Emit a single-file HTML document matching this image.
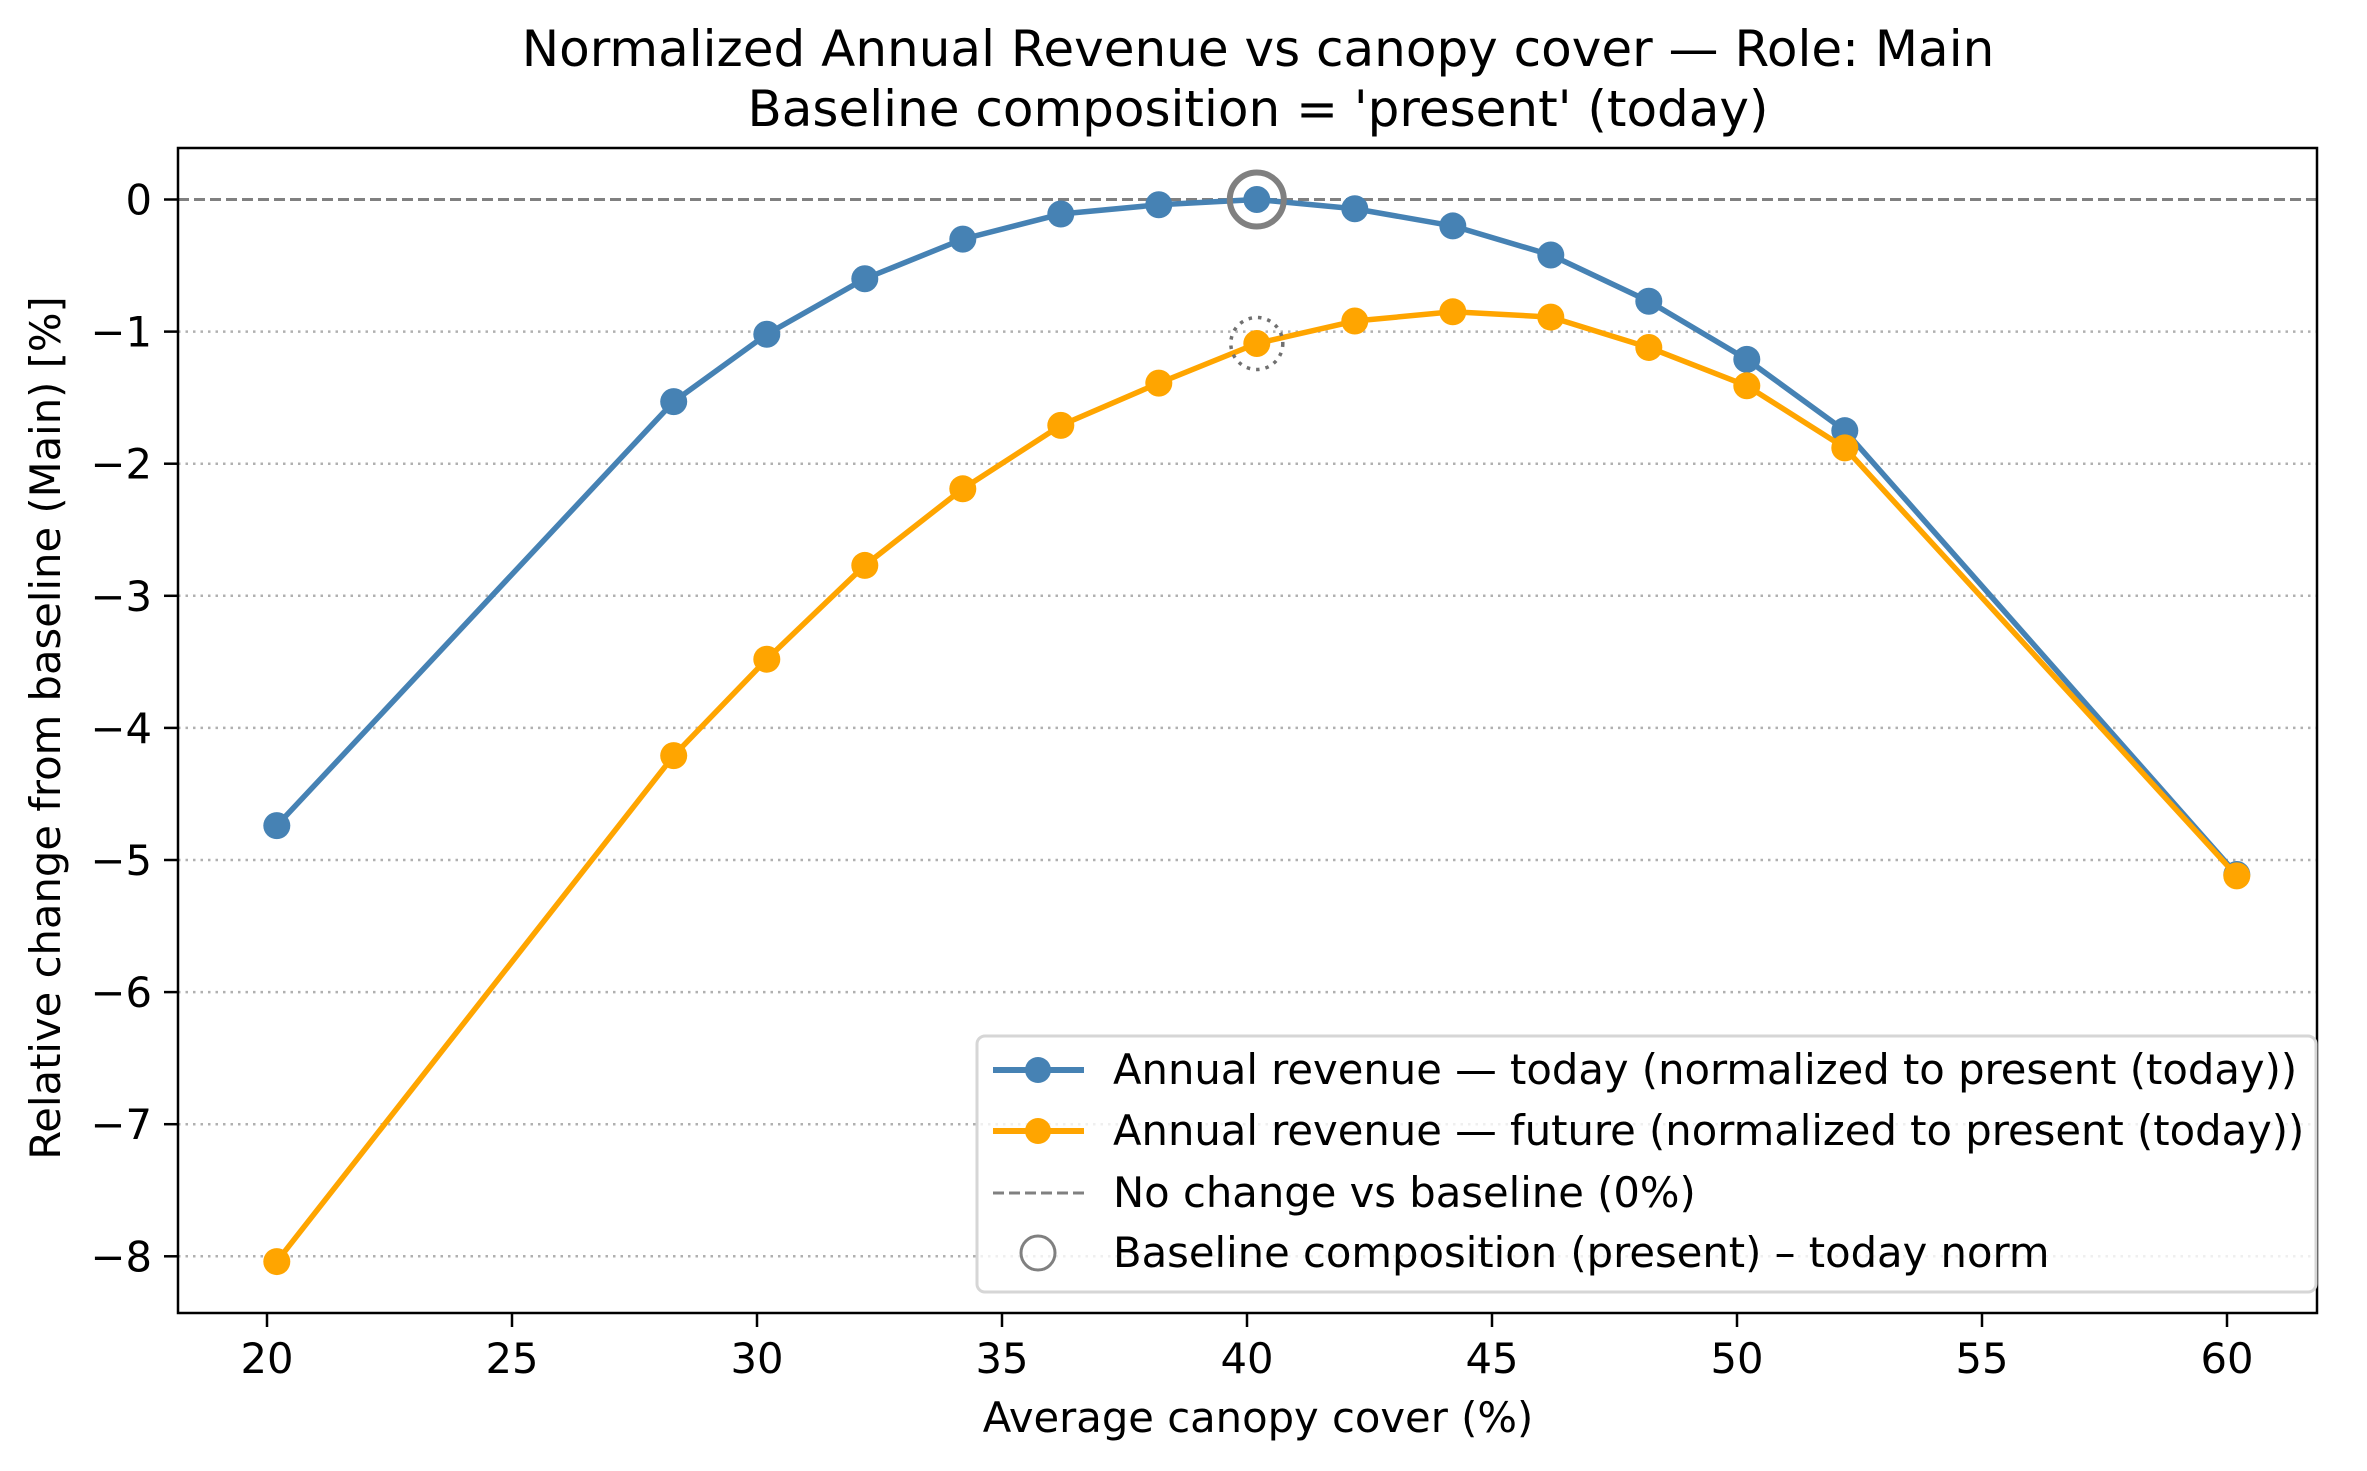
<!DOCTYPE html>
<html><head><meta charset="utf-8"><style>
body{margin:0;background:#fff}
svg{display:block;font-family:"DejaVu Sans","Liberation Sans",sans-serif}
</style></head><body>
<svg id="chart" width="2367" height="1471" viewBox="0 0 2367 1471" xmlns="http://www.w3.org/2000/svg">
<rect width="2367" height="1471" fill="#fff"/>
<text x="1258" y="66" font-size="50" text-anchor="middle">Normalized Annual Revenue vs canopy cover — Role: Main</text>
<text x="1258" y="126" font-size="50" text-anchor="middle">Baseline composition = 'present' (today)</text>
<g id="grid"></g>
<g id="axes"></g>
<g id="series"></g>
<text x="1258" y="1432" font-size="41.7" text-anchor="middle">Average canopy cover (%)</text>
<text x="0" y="0" font-size="41.7" text-anchor="middle" transform="translate(60,728) rotate(-90)">Relative change from baseline (Main) [%]</text>
<g>
<rect x="977" y="1036" width="1339" height="256" rx="8" fill="#fff" fill-opacity="0.8" stroke="#d6d6d6" stroke-width="3"/>
<g>
<line x1="993" y1="1070" x2="1084" y2="1070" stroke="#4682b4" stroke-width="6"/><circle cx="1038" cy="1070" r="13" fill="#4682b4"/>
<text x="1113" y="1084" font-size="41.7">Annual revenue — today (normalized to present (today))</text></g>
<g>
<line x1="993" y1="1131" x2="1084" y2="1131" stroke="#ffa500" stroke-width="6"/><circle cx="1038" cy="1131" r="13" fill="#ffa500"/>
<text x="1113" y="1145" font-size="41.7">Annual revenue — future (normalized to present (today))</text></g>
<g>
<line x1="993" y1="1193" x2="1084" y2="1193" stroke="#808080" stroke-width="3" stroke-dasharray="11,5"/>
<text x="1113" y="1207" font-size="41.7">No change vs baseline (0%)</text></g>
<g>
<circle cx="1038" cy="1253" r="17" fill="none" stroke="#808080" stroke-width="3"/>
<text x="1113" y="1267" font-size="41.7">Baseline composition (present) – today norm</text></g>
</g>
</svg>
<script>
const xs=[20.2,28.3,30.2,32.2,34.2,36.2,38.2,40.2,42.2,44.2,46.2,48.2,50.2,52.2,60.2];
const today=[-4.74,-1.53,-1.02,-0.60,-0.30,-0.11,-0.04,0,-0.07,-0.20,-0.42,-0.77,-1.21,-1.75,-5.11];
const future=[-8.04,-4.21,-3.48,-2.77,-2.19,-1.71,-1.39,-1.09,-0.92,-0.85,-0.89,-1.12,-1.41,-1.88,-5.12];
const xTicks=[20,25,30,35,40,45,50,55,60];
const yTicks=[0,-1,-2,-3,-4,-5,-6,-7,-8];
const baselineX=40.2, baselineToday=0, baselineFuture=-1.09;
const L=178,R=2317,T=148,B=1313;
const X=v=>267+49*(v-20);
const Y=v=>199.5-132.1*v;
const NS="http://www.w3.org/2000/svg";
function mk(tag,attrs,parent){const e=document.createElementNS(NS,tag);for(const k in attrs)e.setAttribute(k,attrs[k]);document.getElementById(parent).appendChild(e);return e;}
yTicks.forEach(t=>{
  if(t!==0){const g=mk('line',{x1:L,x2:R,y1:Y(t),y2:Y(t),stroke:'#b0b0b0','stroke-width':2.5,'stroke-dasharray':'2.5,5'},'grid');
  
  }
  const tk=mk('line',{x1:L-14,x2:L,y1:Y(t),y2:Y(t),stroke:'#000','stroke-width':2.5},'axes');
  
  
  const lb=mk('text',{x:L-26,y:Y(t)+15,'font-size':41.7,'text-anchor':'end'},'axes');
  lb.textContent=t<0?'\u2212'+(-t):String(t);
  
  
});
xTicks.forEach(t=>{
  const tk=mk('line',{x1:X(t),x2:X(t),y1:B,y2:B+14,stroke:'#000','stroke-width':2.5},'axes');
  
  
  const lb=mk('text',{x:X(t),y:B+60,'font-size':41.7,'text-anchor':'middle'},'axes');
  lb.textContent=t;
  
  
});
const zl=mk('line',{x1:L,x2:R,y1:Y(0),y2:Y(0),stroke:'#808080','stroke-width':3,'stroke-dasharray':'11,5'},'grid');


const frame=mk('rect',{x:L,y:T,width:R-L,height:B-T,fill:'none',stroke:'#000','stroke-width':2.5},'axes');


function series(vals,color,name){
  const p=mk('polyline',{points:xs.map((x,i)=>X(x)+','+Y(vals[i])).join(' '),fill:'none',stroke:color,'stroke-width':5.5,'stroke-linejoin':'round'},'series');
  
  
  xs.forEach((x,i)=>{
    const c=mk('circle',{cx:X(x),cy:Y(vals[i]),r:13.5,fill:color},'series');
    
    
  });
}
series(today,'#4682b4','today');
series(future,'#ffa500','future');
const bc=mk('circle',{cx:X(baselineX),cy:Y(baselineToday),r:27,fill:'none',stroke:'#808080','stroke-width':6},'series');


const bf=mk('circle',{cx:X(baselineX),cy:Y(baselineFuture),r:26,fill:'none',stroke:'#707070','stroke-width':3.5,'stroke-dasharray':'3.5,6'},'series');


</script>
</body></html>
